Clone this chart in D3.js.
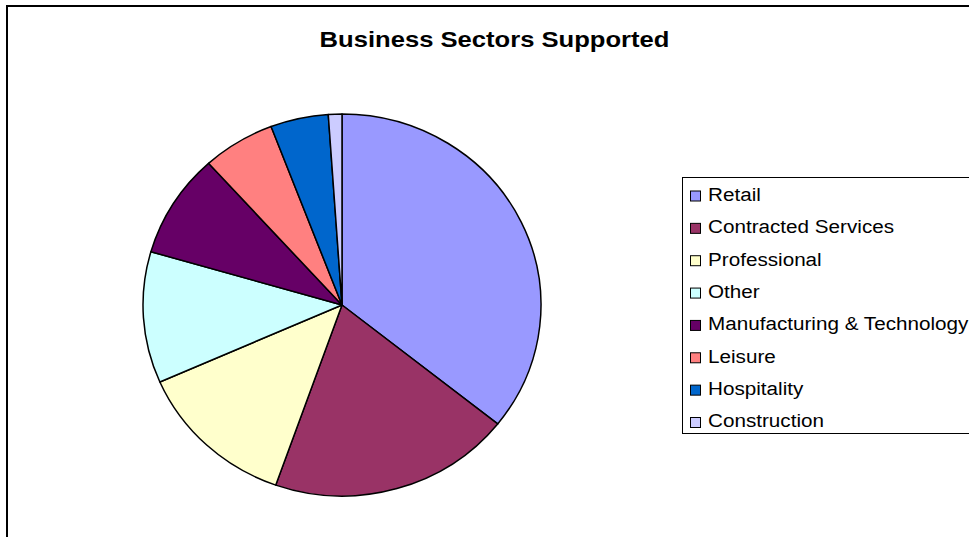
<!DOCTYPE html>
<html>
<head>
<meta charset="utf-8">
<script src="https://cdn.jsdelivr.net/npm/d3@7/dist/d3.min.js"></script>
<style>
  html, body { margin: 0; padding: 0; background: #fff; }
  svg { display: block; }
  text { font-family: "Liberation Sans", Arial, sans-serif; fill: #000; }
</style>
</head>
<body>
<svg id="chart" width="969" height="537"></svg>
<script>
// Share of supported businesses by sector (percent)
const sectors = ["Retail", "Contracted Services", "Professional", "Other",
                 "Manufacturing & Technology", "Leisure", "Hospitality", "Construction"];
const shares = [35.7, 19.7, 13.0, 11.1, 8.8, 5.9, 4.7, 1.1];
const sectorColors = ["#9999FF", "#993366", "#FFFFCC", "#CCFFFF",
                      "#660066", "#FF8080", "#0066CC", "#CCCCFF"];
const chartTitle = "Business Sectors Supported";

const svg = d3.select("#chart");

// Outer chart-area frame (runs off the right and bottom edges)
svg.append("rect")
  .attr("x", 7).attr("y", 6)
  .attr("width", 1000).attr("height", 600)
  .attr("fill", "#fff")
  .attr("stroke", "#000").attr("stroke-width", 2);

// Title, drawn in a slightly widened face
svg.append("g")
  .attr("transform", "translate(494.5,47) scale(1.164,1)")
  .append("text")
  .attr("text-anchor", "middle")
  .attr("font-size", 22).attr("font-weight", "bold")
  .text(chartTitle);

// Pie, slightly wider than tall
const rx = 199, ry = 191;
const data = sectors.map((s, i) => ({ sector: s, value: shares[i], color: sectorColors[i] }));
const pie = d3.pie().sort(null).value(d => d.value);
const arc = d3.arc().innerRadius(0).outerRadius(ry);

const g = svg.append("g")
  .attr("transform", `translate(342,305) scale(${rx / ry},1)`);

g.selectAll("path")
  .data(pie(data))
  .join("path")
  .attr("d", arc)
  .attr("fill", d => d.data.color)
  .attr("stroke", "#000")
  .attr("stroke-width", 1.5)
  .attr("stroke-linejoin", "round")
  .attr("vector-effect", "non-scaling-stroke");

// Legend
const legend = svg.append("g");
legend.append("rect")
  .attr("x", 682.5).attr("y", 177.5)
  .attr("width", 400).attr("height", 256)
  .attr("fill", "#fff")
  .attr("stroke", "#000").attr("stroke-width", 1);

const row = d3.scalePoint().domain(sectors).range([196, 422.5]);

const items = legend.selectAll("g.item")
  .data(data)
  .join("g")
  .attr("class", "item")
  .attr("transform", d => `translate(0,${row(d.sector)})`);

items.append("rect")
  .attr("x", 690.5).attr("y", -5)
  .attr("width", 10).attr("height", 10)
  .attr("fill", d => d.color)
  .attr("stroke", "#000").attr("stroke-width", 1);

items.append("text")
  .attr("transform", "translate(708,4.8) scale(1.088,1)")
  .attr("font-size", 19)
  .text(d => d.sector);
</script>
</body>
</html>
